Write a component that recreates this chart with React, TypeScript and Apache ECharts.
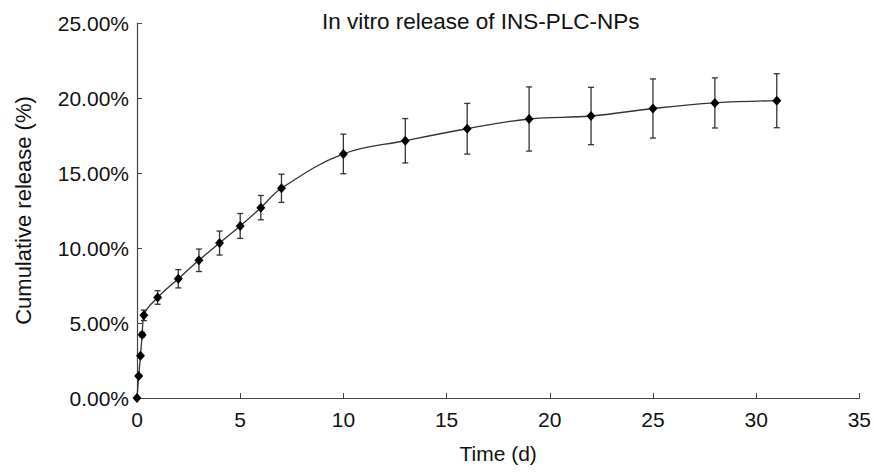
import React, { useEffect, useRef } from "react";
import * as echarts from "echarts";

const times = [0, 0.083, 0.167, 0.25, 0.333, 1, 2, 3, 4, 5, 6, 7, 10, 13, 16, 19, 22, 25, 28, 31];
const release = [0, 1.47, 2.82, 4.22, 5.51, 6.7, 7.95, 9.18, 10.33, 11.47, 12.69, 13.98, 16.27, 17.15, 17.95, 18.6, 18.8, 19.3, 19.67, 19.82];
const sd = [0, 0.05, 0.05, 0.15, 0.35, 0.45, 0.61, 0.75, 0.8, 0.83, 0.81, 0.94, 1.32, 1.48, 1.69, 2.14, 1.91, 1.97, 1.67, 1.8];
const xTicks = [0, 35, 5];
const yTicks = [0, 25, 5];

const FONT = "Liberation Sans, Arial, sans-serif";

export default function App() {
  const ref = useRef<HTMLDivElement>(null);
  useEffect(() => {
    if (!ref.current) return;
    document.body.style.margin = "0";
    document.body.style.overflow = "hidden";
    const chart = echarts.init(ref.current, undefined, { renderer: "svg" });
    const lineData = times.map((t, i) => [t, release[i]]);
    const errData = times.map((t, i) => [t, release[i] - sd[i], release[i] + sd[i]]);
    chart.setOption({
      animation: false,
      backgroundColor: "#fff",
      title: {
        text: "In vitro release of INS-PLC-NPs",
        left: 317,
        top: 5,
        textStyle: { fontFamily: FONT, fontSize: 22.5, fontWeight: "normal", color: "#111" },
      },
      grid: { left: 137, right: 13, top: 23, bottom: 74 },
      xAxis: {
        type: "value",
        min: xTicks[0],
        max: xTicks[1],
        interval: xTicks[2],
        name: "Time (d)",
        nameLocation: "middle",
        nameGap: 45,
        nameTextStyle: { fontFamily: FONT, fontSize: 21, color: "#111" },
        axisLine: { show: true, onZero: false, lineStyle: { color: "#444", width: 1.2 } },
        axisTick: { show: true, inside: true, length: 5, lineStyle: { color: "#444" } },
        axisLabel: { fontFamily: FONT, fontSize: 21, color: "#111", margin: 11 },
        splitLine: { show: false },
      },
      yAxis: {
        type: "value",
        min: yTicks[0],
        max: yTicks[1],
        interval: yTicks[2],
        name: "Cumulative release (%)",
        nameLocation: "middle",
        nameGap: 103,
        nameTextStyle: { fontFamily: FONT, fontSize: 22, color: "#111" },
        axisLine: { show: true, lineStyle: { color: "#444", width: 1.2 } },
        axisTick: { show: true, inside: true, length: 5, lineStyle: { color: "#444" } },
        axisLabel: {
          fontFamily: FONT,
          fontSize: 21,
          color: "#111",
          margin: 8,
          formatter: (v: number) => v.toFixed(2) + "%",
        },
        splitLine: { show: false },
      },
      series: [
        {
          type: "custom",
          data: errData,
          z: 1,
          renderItem: (params: any, api: any) => {
            const x = api.value(0);
            const lo = api.coord([x, api.value(1)]);
            const hi = api.coord([x, api.value(2)]);
            const w = 3;
            const style = { stroke: "#333", lineWidth: 1.3 };
            return {
              type: "group",
              children: [
                { type: "line", shape: { x1: lo[0], y1: lo[1], x2: hi[0], y2: hi[1] }, style },
                { type: "line", shape: { x1: lo[0] - w, y1: lo[1], x2: lo[0] + w, y2: lo[1] }, style },
                { type: "line", shape: { x1: hi[0] - w, y1: hi[1], x2: hi[0] + w, y2: hi[1] }, style },
              ],
            };
          },
        },
        {
          type: "line",
          data: lineData,
          smooth: 0.4,
          z: 2,
          symbol: "diamond",
          symbolSize: [9, 10],
          showSymbol: true,
          itemStyle: { color: "#000" },
          lineStyle: { color: "#333", width: 1.3 },
        },
      ],
    });
    return () => chart.dispose();
  }, []);
  return <div ref={ref} style={{ width: 874, height: 472 }} />;
}
